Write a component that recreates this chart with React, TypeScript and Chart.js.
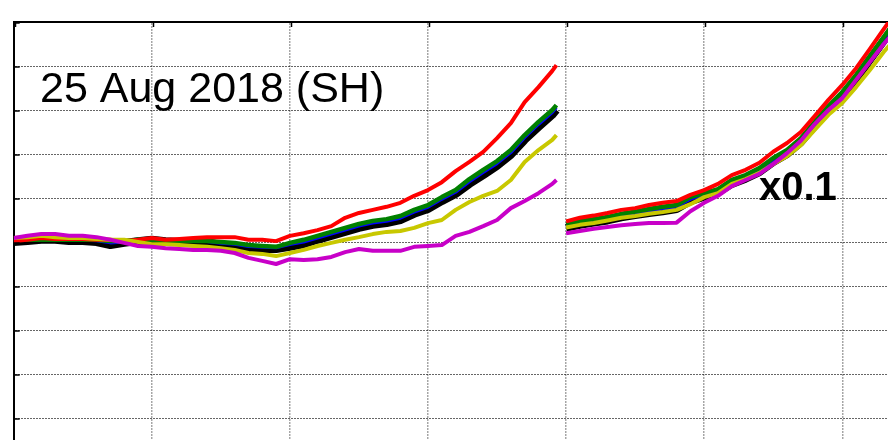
import React, { useEffect, useRef } from "react";
import { Chart, registerables } from "chart.js";

Chart.register(...registerables);

// x positions (grid units) of the two plotted segments
const xLeft = [0, 0.1, 0.2, 0.3, 0.4, 0.5, 0.6, 0.7, 0.8, 0.9, 1.0, 1.1, 1.2, 1.3, 1.4, 1.5, 1.6, 1.7, 1.8, 1.9, 2.0, 2.1, 2.2, 2.3, 2.4, 2.5, 2.6, 2.7, 2.8, 2.9, 3.0, 3.1, 3.2, 3.3, 3.4, 3.5, 3.6, 3.7, 3.8, 3.9, 3.93];
const xRight = [4.0, 4.1, 4.2, 4.3, 4.4, 4.5, 4.6, 4.7, 4.8, 4.9, 5.0, 5.1, 5.2, 5.3, 5.4, 5.5, 5.6, 5.7, 5.8, 5.9, 6.0, 6.1, 6.2, 6.3, 6.4];

// left segment values
const blackLeft = [0, 0.2, 0.5, 0.5, 0.2, 0.2, 0, -0.7, -0.2, 0.2, 0.5, 0.2, 0, 0, 0, -0.7, -0.9, -1.4, -1.6, -1.6, -1.1, -0.5, 0.5, 1.4, 2.3, 3.2, 3.9, 4.3, 5.0, 6.4, 7.5, 9.3, 10.9, 13.2, 15.2, 17.3, 19.8, 23.2, 26.1, 28.9, 30.0];
const blueLeft = [0.3, 0.4, 0.5, 0.5, 0.4, 0.4, 0.3, -0.2, 0, 0.4, 0.5, 0.2, 0.1, 0.1, 0.1, -0.3, -0.5, -1.0, -1.2, -1.3, -0.6, 0, 0.9, 1.8, 2.7, 3.6, 4.3, 4.7, 5.4, 6.8, 7.9, 9.7, 11.3, 13.7, 15.8, 17.8, 20.3, 23.7, 26.7, 29.4, 30.5];
const greenLeft = [0.5, 0.5, 0.5, 0.5, 0.5, 0.5, 0.5, 0.2, 0.2, 0.5, 0.5, 0.2, 0.2, 0.2, 0.2, 0, -0.2, -0.7, -0.9, -1.1, -0.2, 0.5, 1.4, 2.3, 3.2, 4.1, 4.8, 5.2, 5.9, 7.3, 8.4, 10.2, 11.8, 14.3, 16.4, 18.4, 20.9, 24.3, 27.3, 30.0, 31.1];
const redLeft = [0.2, 0.5, 0.9, 0.7, 0.7, 0.7, 0.5, 0.5, 0.2, 0.5, 0.9, 0.5, 0.7, 0.9, 1.1, 1.1, 1.1, 0.5, 0.5, 0.2, 1.4, 2.0, 2.7, 3.6, 5.5, 6.6, 7.3, 8.0, 8.9, 10.5, 11.8, 13.6, 16.1, 18.2, 20.5, 23.6, 27.0, 31.8, 35.2, 38.9, 40.2];
const yellowLeft = [0.9, 1.1, 1.4, 1.1, 0.9, 0.9, 0.7, 0.5, 0.5, 0, -0.5, -0.5, -0.7, -0.9, -1.1, -1.4, -1.8, -2.5, -2.7, -3.2, -2.5, -1.8, -0.9, -0.2, 0.5, 1.1, 1.8, 2.3, 2.5, 3.2, 4.3, 5.0, 7.3, 9.1, 10.5, 11.6, 14.1, 18.2, 20.9, 23.2, 24.3];
const magentaLeft = [0.9, 1.4, 1.8, 1.8, 1.4, 1.4, 1.1, 0.5, -0.2, -0.9, -1.1, -1.4, -1.6, -1.8, -1.8, -2.0, -2.5, -3.6, -4.3, -5.0, -3.9, -4.1, -3.9, -3.4, -2.3, -1.6, -2.0, -2.0, -2.0, -1.1, -0.9, -0.7, 1.4, 2.3, 3.6, 5.0, 7.7, 9.3, 11.1, 13.2, 14.1];

// right segment values (plotted x0.1)
const blackRight = [3.2, 3.9, 4.4, 4.9, 5.6, 6.1, 6.6, 7.0, 7.5, 9.3, 10.3, 11.3, 13.2, 14.4, 15.9, 18.2, 20.0, 22.7, 26.4, 30.0, 33.0, 37.0, 41.4, 45.7, 50.0];
const blueRight = [3.6, 4.3, 4.8, 5.3, 6.0, 6.5, 7.0, 7.5, 8.0, 9.7, 10.7, 11.6, 13.6, 14.8, 16.3, 18.6, 20.4, 23.1, 26.8, 30.4, 33.5, 37.5, 41.8, 46.1, 50.4];
const greenRight = [4.0, 4.7, 5.2, 5.7, 6.4, 6.9, 7.5, 8.0, 8.4, 10.2, 11.1, 12.0, 14.1, 15.2, 16.8, 19.1, 20.9, 23.6, 27.3, 30.9, 34.1, 38.0, 42.3, 46.6, 50.9];
const redRight = [4.7, 5.5, 6.0, 6.6, 7.3, 7.7, 8.4, 8.9, 9.3, 10.7, 11.8, 13.2, 15.2, 16.4, 18.0, 20.5, 22.5, 25.0, 28.6, 32.3, 35.7, 39.5, 43.9, 48.4, 52.7];
const yellowRight = [3.3, 3.9, 4.3, 4.9, 5.5, 5.9, 6.4, 6.8, 7.3, 8.6, 10.2, 11.1, 13.2, 14.3, 15.7, 17.7, 19.5, 22.0, 25.5, 28.9, 31.6, 35.2, 39.1, 43.2, 46.8];
const magentaRight = [2.0, 2.5, 3.0, 3.4, 3.8, 4.1, 4.3, 4.3, 4.4, 7.0, 8.9, 10.5, 12.7, 14.1, 15.5, 17.7, 20.2, 23.0, 26.8, 30.0, 32.7, 36.8, 40.9, 45.0, 48.6];

const titleText = "25 Aug 2018 (SH)";
const scaleText = "x0.1";

function buildPoints(left: number[], right: number[]) {
  const pts: { x: number; y: number | null }[] = [];
  xLeft.forEach((x, i) => pts.push({ x, y: left[i] }));
  pts.push({ x: 3.965, y: null });
  xRight.forEach((x, i) => pts.push({ x, y: right[i] }));
  return pts;
}

const textPlugin = {
  id: "texts",
  afterDatasetsDraw(chart: any) {
    const ctx = chart.ctx;
    ctx.save();
    ctx.fillStyle = "#000";
    ctx.textBaseline = "alphabetic";
    ctx.textAlign = "left";
    ctx.font = '43px "Liberation Sans", Arial, sans-serif';
    ctx.fillText(titleText, 40, 102);
    ctx.font = 'bold 40px "Liberation Sans", Arial, sans-serif';
    ctx.fillText(scaleText, 759, 199.5);
    ctx.restore();
  },
};

const tickPlugin = {
  id: "inwardTicks",
  afterDraw(chart: any) {
    const ctx = chart.ctx;
    const xs = chart.scales.x;
    const ys = chart.scales.y;
    const area = chart.chartArea;
    ctx.save();
    ctx.strokeStyle = "#000";
    ctx.lineWidth = 1.5;
    xs.ticks.forEach((t: any) => {
      const px = Math.round(xs.getPixelForValue(t.value)) + 1.5;
      ctx.beginPath();
      ctx.moveTo(px, area.top);
      ctx.lineTo(px, area.top + 5);
      ctx.stroke();
    });
    ys.ticks.forEach((t: any) => {
      const py = Math.round(ys.getPixelForValue(t.value)) + 1;
      ctx.beginPath();
      ctx.moveTo(area.left, py);
      ctx.lineTo(area.left + 6, py);
      ctx.stroke();
    });
    ctx.restore();
  },
};

export default function App() {
  const ref = useRef<HTMLCanvasElement | null>(null);
  useEffect(() => {
    if (!ref.current) return;
    const mk = (label: string, left: number[], right: number[], color: string, width: number, order: number) => ({
      label,
      data: buildPoints(left, right),
      borderColor: color,
      backgroundColor: color,
      borderWidth: width,
      pointRadius: 0,
      tension: 0,
      spanGaps: false,
      order,
      borderJoinStyle: "round" as const,
      borderCapStyle: "butt" as const,
    });
    const chart = new Chart(ref.current, {
      type: "line",
      data: {
        datasets: [
          mk("black", blackLeft, blackRight, "#000000", 8, 10),
          mk("blue", blueLeft, blueRight, "#0000ff", 3, 9),
          mk("green", greenLeft, greenRight, "#008000", 4.5, 8),
          mk("red", redLeft, redRight, "#ff0000", 4, 7),
          mk("yellow", yellowLeft, yellowRight, "#c8c800", 4, 6),
          mk("magenta", magentaLeft, magentaRight, "#c800c8", 4, 5),
        ],
      },
      options: {
        animation: false,
        responsive: false,
        maintainAspectRatio: false,
        layout: { padding: { left: 13.7, top: 22, right: 0, bottom: 0 } },
        plugins: { legend: { display: false }, tooltip: { enabled: false }, title: { display: false } },
        scales: {
          x: {
            type: "linear",
            position: "top",
            min: 0,
            max: 6.331,
            ticks: { display: false, stepSize: 1, includeBounds: false },
            grid: { color: "rgba(0,0,0,0.35)", lineWidth: 1.5, drawTicks: false },
            border: { display: true, color: "#000", width: 2, dash: [2, 1] },
          },
          y: {
            type: "linear",
            position: "left",
            min: -45,
            max: 50,
            ticks: { display: false, stepSize: 10, includeBounds: false },
            grid: { color: "rgba(0,0,0,0.6)", lineWidth: 1, drawTicks: false },
            border: { display: true, color: "#000", width: 2, dash: [2, 1] },
          },
        },
      },
      plugins: [textPlugin, tickPlugin],
    });
    return () => chart.destroy();
  }, []);
  return (
    <div style={{ position: "fixed", left: 0, top: 0, width: 888, height: 440, background: "#fff" }}>
      <canvas ref={ref} width={888} height={440} style={{ display: "block" }} />
    </div>
  );
}
